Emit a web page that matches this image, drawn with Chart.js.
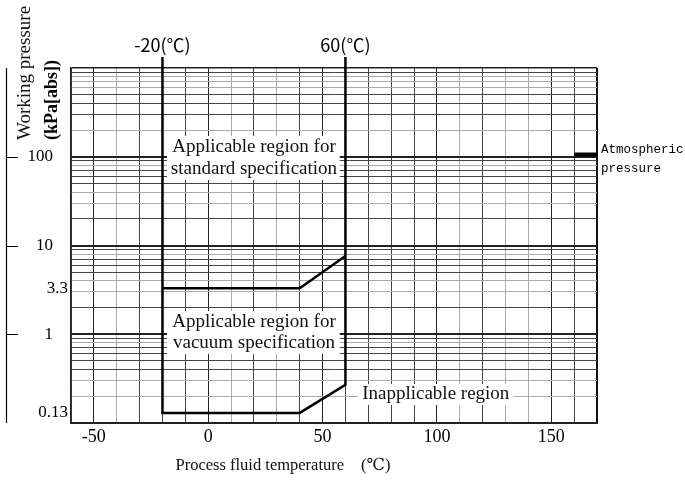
<!DOCTYPE html>
<html>
<head>
<meta charset="utf-8">
<script src="https://cdn.jsdelivr.net/npm/chart.js@4.4.1/dist/chart.umd.min.js"></script>
<style>
  html, body { margin: 0; padding: 0; background: #fff; }
  #wrap { width: 685px; height: 485px; }
</style>
</head>
<body>
<div id="wrap"><canvas id="myChart" width="685" height="485"></canvas></div>
<script>
// axis ranges
var tempMin = -60, tempMax = 170;
var pressMin = 0.1, pressMax = 1000;

// tick labels
var tempLabels = [-50, 0, 50, 100, 150];
var pressMajorLabels = [1, 10, 100];
var pressMinorLabels = [0.13, 3.3];

// outer boundary of the applicable regions
var outlineTemps = [-20, -20, 40, 60, 60];
var outlinePress = [1000, 0.13, 0.13, 0.27, 1000];

// border between standard and vacuum specification
var standardTemps = [-20, 40, 60];
var standardPress = [3.3, 3.3, 7.6];

// atmospheric pressure mark
var atmTemps = [160, 170];
var atmPress = [106, 106];

// temperature limits printed above the chart
var limitTemps = [-20, 60];
var limitLabels = ['-20(℃)', '60(℃)'];

// lighter grid lines
var grayTemps = [-40, 10, 30, 110, 130, 140];
var grayPress = [0.2, 0.3, 0.8, 3, 4, 8, 30, 40, 80, 200, 600, 700, 800];

var serif = '"Liberation Serif", "DejaVu Serif", serif';
var cjk = '"Noto Sans CJK JP", sans-serif';
var mono = '"Liberation Mono", monospace';

function pts(xs, ys) {
  return xs.map(function(x, i) { return {x: x, y: ys[i]}; });
}

function near(list, v) {
  return list.some(function(g) { return Math.abs(g - v) / g < 1e-6; });
}

// 1..9 in every decade
function logGrid() {
  var t = [];
  for (var e = -1; e < 3; e++) {
    for (var s = 1; s < 10; s++) t.push({value: +(s * Math.pow(10, e)).toPrecision(3)});
  }
  t.push({value: pressMax});
  return t;
}

function box(ctx, x0, y0, x1, y1) {
  ctx.fillStyle = '#fff';
  ctx.fillRect(x0, y0, x1 - x0, y1 - y0);
}

var decor = {
  id: 'decor',
  beforeDatasetsDraw: function(chart) {
    var ctx = chart.ctx, xs = chart.scales.x;
    ctx.save();
    // region labels on white boxes
    var cx = (xs.getPixelForValue(-20) + xs.getPixelForValue(60)) / 2;
    box(ctx, xs.getPixelForValue(-18), 136, xs.getPixelForValue(57.5), 180);
    box(ctx, xs.getPixelForValue(-18), 311, xs.getPixelForValue(57.5), 354);
    box(ctx, xs.getPixelForValue(65.5), 384, xs.getPixelForValue(133.5), 405);
    ctx.fillStyle = '#111';
    ctx.font = '19px ' + serif;
    ctx.textAlign = 'center';
    ctx.textBaseline = 'middle';
    ctx.fillText('Applicable region for', cx, 147);
    ctx.fillText('standard specification', cx, 169);
    ctx.fillText('Applicable region for', cx, 322);
    ctx.fillText('vacuum specification', cx, 343);
    ctx.fillText('Inapplicable region', xs.getPixelForValue(99.5), 394);
    ctx.restore();
  },
  afterDraw: function(chart) {
    var ctx = chart.ctx, xs = chart.scales.x, ys = chart.scales.y, a = chart.chartArea;
    ctx.save();
    // limit lines poke out above the frame, with their labels
    ctx.strokeStyle = '#000';
    ctx.lineWidth = 2.5;
    ctx.font = '18px ' + cjk;
    ctx.fillStyle = '#000';
    ctx.textAlign = 'center';
    ctx.textBaseline = 'middle';
    limitTemps.forEach(function(t, i) {
      var px = xs.getPixelForValue(t);
      ctx.beginPath();
      ctx.moveTo(px, a.top);
      ctx.lineTo(px, a.top - 11);
      ctx.stroke();
      ctx.fillText(limitLabels[i], px, 45);
    });

    // x tick labels
    ctx.font = '18px ' + serif;
    tempLabels.forEach(function(t) {
      ctx.fillText(String(t), xs.getPixelForValue(t), 437);
    });
    ctx.font = '16.5px ' + serif;
    ctx.fillStyle = '#111';
    ctx.fillText('Process fluid temperature\u3000(℃)', 283, 466);

    // left pressure axis with ticks
    ctx.strokeStyle = '#000';
    ctx.lineWidth = 1.2;
    ctx.beginPath();
    ctx.moveTo(6.5, a.top);
    ctx.lineTo(6.5, a.bottom);
    pressMajorLabels.forEach(function(p) {
      var py = Math.round(ys.getPixelForValue(p)) + 0.5;
      ctx.moveTo(6.5, py);
      ctx.lineTo(18, py);
    });
    ctx.stroke();
    ctx.fillStyle = '#000';
    ctx.font = '17px ' + serif;
    ctx.textAlign = 'right';
    pressMajorLabels.forEach(function(p) {
      ctx.fillText(String(p), 53, ys.getPixelForValue(p));
    });
    pressMinorLabels.forEach(function(p) {
      ctx.fillText(String(p), 68, ys.getPixelForValue(p));
    });

    // y titles, rotated
    ctx.save();
    ctx.translate(25, 140);
    ctx.rotate(-Math.PI / 2);
    ctx.textAlign = 'left';
    ctx.fillStyle = '#111';
    ctx.font = '19px ' + serif;
    ctx.fillText('Working pressure', 0, 0);
    ctx.restore();
    ctx.save();
    ctx.translate(52, 140);
    ctx.rotate(-Math.PI / 2);
    ctx.textAlign = 'left';
    ctx.fillStyle = '#000';
    ctx.font = 'bold 18px ' + serif;
    ctx.fillText('(kPa[abs])', 0, 0);
    ctx.restore();

    // atmospheric pressure note
    ctx.font = '12.5px ' + mono;
    ctx.textAlign = 'left';
    ctx.fillStyle = '#000';
    ctx.fillText('Atmospheric', 601, 150);
    ctx.fillText('pressure', 601, 169);
    ctx.restore();
  }
};

var ctx = document.getElementById('myChart');
var myChart = new Chart(ctx, {
  type: 'scatter',
  data: {
    datasets: [
      {data: pts(outlineTemps, outlinePress), showLine: true, borderColor: '#000', borderWidth: 2.5, pointRadius: 0},
      {data: pts(standardTemps, standardPress), showLine: true, borderColor: '#000', borderWidth: 2.5, pointRadius: 0},
      {data: pts(atmTemps, atmPress), showLine: true, borderColor: '#000', borderWidth: 4, pointRadius: 0, borderCapStyle: 'butt'}
    ]
  },
  options: {
    responsive: false,
    animation: false,
    clip: false,
    layout: {padding: {left: 71, right: 88, top: 68, bottom: 62}},
    plugins: {legend: {display: false}, tooltip: {enabled: false}},
    scales: {
      x: {
        type: 'linear', min: tempMin, max: tempMax,
        ticks: {display: false, stepSize: 10},
        grid: {
          drawTicks: false,
          color: function(c) {
            var v = c.tick.value;
            if (v === tempMax) return '#111';
            if (v % 50 === 0) return '#222';
            if (grayTemps.indexOf(v) >= 0) return '#aaa';
            return '#444';
          },
          lineWidth: function(c) {
            return c.tick.value === tempMax ? 2 : 1;
          }
        },
        border: {color: '#222', width: 2}
      },
      y: {
        type: 'logarithmic', min: pressMin, max: pressMax,
        afterBuildTicks: function(s) { s.ticks = logGrid(); },
        ticks: {display: false},
        grid: {
          drawTicks: false,
          color: function(c) {
            var v = c.tick.value;
            if (v === pressMax || near(pressMajorLabels, v)) return '#222';
            if (near(grayPress, v)) return '#aaa';
            return '#444';
          },
          lineWidth: function(c) {
            var v = c.tick.value;
            if (near(pressMajorLabels, v)) return 2;
            if (v === pressMax) return 1.5;
            return 1;
          }
        },
        border: {color: '#222', width: 1.5}
      }
    }
  },
  plugins: [decor]
});
</script>
</body>
</html>
